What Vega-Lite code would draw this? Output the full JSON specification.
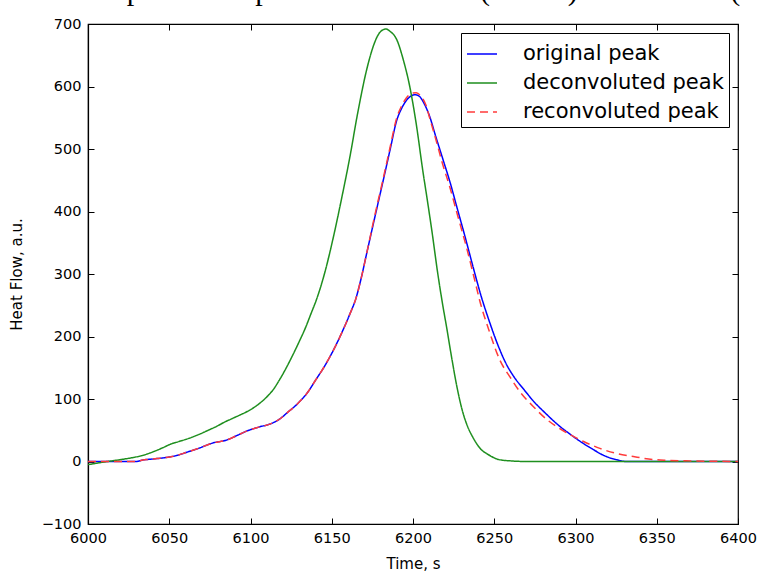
{
  "$schema": "https://vega.github.io/schema/vega-lite/v6.json",
  "width": 650,
  "height": 500,
  "autosize": {"type": "none"},
  "padding": {"left": 88, "top": 24, "right": 24, "bottom": 50},
  "background": "white",
  "title": {
    "text": "овки. \u2009Скорости \u2009нагрева \u20091.9 \u2009°С/мин \u2009(синий) и 6 °С/мин (зеленый)",
    "anchor": "start",
    "frame": "group",
    "font": "Liberation Serif",
    "fontSize": 30,
    "fontWeight": "normal",
    "color": "black",
    "baseline": "alphabetic",
    "offset": 0,
    "dx": -90,
    "dy": 14
  },
  "data": {
    "values": [
      {"t": 6000, "v": 0, "s": "original peak"},
      {"t": 6015, "v": 0, "s": "original peak"},
      {"t": 6030, "v": 0, "s": "original peak"},
      {"t": 6033, "v": 2, "s": "original peak"},
      {"t": 6040, "v": 4, "s": "original peak"},
      {"t": 6047, "v": 6, "s": "original peak"},
      {"t": 6055, "v": 10, "s": "original peak"},
      {"t": 6061, "v": 15, "s": "original peak"},
      {"t": 6068, "v": 21, "s": "original peak"},
      {"t": 6076, "v": 29, "s": "original peak"},
      {"t": 6086, "v": 35, "s": "original peak"},
      {"t": 6092, "v": 42, "s": "original peak"},
      {"t": 6098, "v": 49, "s": "original peak"},
      {"t": 6105, "v": 55, "s": "original peak"},
      {"t": 6113, "v": 61, "s": "original peak"},
      {"t": 6118, "v": 68, "s": "original peak"},
      {"t": 6123, "v": 79, "s": "original peak"},
      {"t": 6128, "v": 90, "s": "original peak"},
      {"t": 6131, "v": 98, "s": "original peak"},
      {"t": 6135, "v": 110, "s": "original peak"},
      {"t": 6140, "v": 130, "s": "original peak"},
      {"t": 6145, "v": 150, "s": "original peak"},
      {"t": 6151, "v": 178, "s": "original peak"},
      {"t": 6156, "v": 205, "s": "original peak"},
      {"t": 6161, "v": 235, "s": "original peak"},
      {"t": 6165, "v": 262, "s": "original peak"},
      {"t": 6168, "v": 292, "s": "original peak"},
      {"t": 6171.5, "v": 333, "s": "original peak"},
      {"t": 6176, "v": 385, "s": "original peak"},
      {"t": 6181.7, "v": 450, "s": "original peak"},
      {"t": 6186, "v": 500, "s": "original peak"},
      {"t": 6190, "v": 546, "s": "original peak"},
      {"t": 6193, "v": 565, "s": "original peak"},
      {"t": 6196, "v": 578, "s": "original peak"},
      {"t": 6199, "v": 585, "s": "original peak"},
      {"t": 6201, "v": 587, "s": "original peak"},
      {"t": 6204, "v": 584, "s": "original peak"},
      {"t": 6207, "v": 572, "s": "original peak"},
      {"t": 6210, "v": 554, "s": "original peak"},
      {"t": 6214, "v": 520, "s": "original peak"},
      {"t": 6218.6, "v": 482, "s": "original peak"},
      {"t": 6223, "v": 445, "s": "original peak"},
      {"t": 6227, "v": 407, "s": "original peak"},
      {"t": 6232, "v": 360, "s": "original peak"},
      {"t": 6237, "v": 311, "s": "original peak"},
      {"t": 6242, "v": 264, "s": "original peak"},
      {"t": 6247, "v": 224, "s": "original peak"},
      {"t": 6252, "v": 188, "s": "original peak"},
      {"t": 6257, "v": 158, "s": "original peak"},
      {"t": 6262, "v": 136, "s": "original peak"},
      {"t": 6268, "v": 116, "s": "original peak"},
      {"t": 6274, "v": 97, "s": "original peak"},
      {"t": 6282, "v": 76, "s": "original peak"},
      {"t": 6290, "v": 57, "s": "original peak"},
      {"t": 6296, "v": 45, "s": "original peak"},
      {"t": 6303, "v": 32, "s": "original peak"},
      {"t": 6311, "v": 19, "s": "original peak"},
      {"t": 6318, "v": 9, "s": "original peak"},
      {"t": 6325, "v": 3, "s": "original peak"},
      {"t": 6331, "v": 0, "s": "original peak"},
      {"t": 6360, "v": 0, "s": "original peak"},
      {"t": 6400, "v": 0, "s": "original peak"},

      {"t": 6000, "v": -5, "s": "deconvoluted peak"},
      {"t": 6012, "v": 0, "s": "deconvoluted peak"},
      {"t": 6020, "v": 3, "s": "deconvoluted peak"},
      {"t": 6027, "v": 6, "s": "deconvoluted peak"},
      {"t": 6034, "v": 10, "s": "deconvoluted peak"},
      {"t": 6041, "v": 16.5, "s": "deconvoluted peak"},
      {"t": 6046, "v": 22, "s": "deconvoluted peak"},
      {"t": 6051, "v": 28, "s": "deconvoluted peak"},
      {"t": 6056, "v": 32, "s": "deconvoluted peak"},
      {"t": 6062, "v": 37, "s": "deconvoluted peak"},
      {"t": 6068, "v": 43, "s": "deconvoluted peak"},
      {"t": 6074, "v": 50, "s": "deconvoluted peak"},
      {"t": 6079, "v": 56, "s": "deconvoluted peak"},
      {"t": 6084, "v": 63, "s": "deconvoluted peak"},
      {"t": 6089, "v": 69, "s": "deconvoluted peak"},
      {"t": 6094, "v": 75, "s": "deconvoluted peak"},
      {"t": 6098, "v": 80, "s": "deconvoluted peak"},
      {"t": 6103, "v": 88, "s": "deconvoluted peak"},
      {"t": 6107, "v": 96, "s": "deconvoluted peak"},
      {"t": 6111, "v": 106, "s": "deconvoluted peak"},
      {"t": 6114, "v": 115, "s": "deconvoluted peak"},
      {"t": 6117, "v": 127, "s": "deconvoluted peak"},
      {"t": 6121, "v": 145, "s": "deconvoluted peak"},
      {"t": 6125, "v": 165, "s": "deconvoluted peak"},
      {"t": 6130, "v": 192, "s": "deconvoluted peak"},
      {"t": 6134, "v": 215, "s": "deconvoluted peak"},
      {"t": 6137, "v": 235, "s": "deconvoluted peak"},
      {"t": 6141, "v": 262, "s": "deconvoluted peak"},
      {"t": 6146, "v": 305, "s": "deconvoluted peak"},
      {"t": 6151, "v": 359, "s": "deconvoluted peak"},
      {"t": 6156, "v": 420, "s": "deconvoluted peak"},
      {"t": 6161, "v": 485, "s": "deconvoluted peak"},
      {"t": 6166, "v": 558, "s": "deconvoluted peak"},
      {"t": 6171.5, "v": 627, "s": "deconvoluted peak"},
      {"t": 6175, "v": 660, "s": "deconvoluted peak"},
      {"t": 6178, "v": 680, "s": "deconvoluted peak"},
      {"t": 6181, "v": 690, "s": "deconvoluted peak"},
      {"t": 6183.4, "v": 692, "s": "deconvoluted peak"},
      {"t": 6186, "v": 688, "s": "deconvoluted peak"},
      {"t": 6190, "v": 675, "s": "deconvoluted peak"},
      {"t": 6194, "v": 643, "s": "deconvoluted peak"},
      {"t": 6198, "v": 600, "s": "deconvoluted peak"},
      {"t": 6202, "v": 540, "s": "deconvoluted peak"},
      {"t": 6206, "v": 466, "s": "deconvoluted peak"},
      {"t": 6209, "v": 415, "s": "deconvoluted peak"},
      {"t": 6212, "v": 362, "s": "deconvoluted peak"},
      {"t": 6215, "v": 305, "s": "deconvoluted peak"},
      {"t": 6218, "v": 255, "s": "deconvoluted peak"},
      {"t": 6221, "v": 210, "s": "deconvoluted peak"},
      {"t": 6224, "v": 163, "s": "deconvoluted peak"},
      {"t": 6227, "v": 120, "s": "deconvoluted peak"},
      {"t": 6230, "v": 85, "s": "deconvoluted peak"},
      {"t": 6233, "v": 60, "s": "deconvoluted peak"},
      {"t": 6237, "v": 38, "s": "deconvoluted peak"},
      {"t": 6241, "v": 22, "s": "deconvoluted peak"},
      {"t": 6247, "v": 10, "s": "deconvoluted peak"},
      {"t": 6253, "v": 3, "s": "deconvoluted peak"},
      {"t": 6260, "v": 1, "s": "deconvoluted peak"},
      {"t": 6270, "v": 0, "s": "deconvoluted peak"},
      {"t": 6400, "v": 0, "s": "deconvoluted peak"},

      {"t": 6000, "v": 0, "s": "reconvoluted peak"},
      {"t": 6015, "v": 0, "s": "reconvoluted peak"},
      {"t": 6030, "v": 0, "s": "reconvoluted peak"},
      {"t": 6033, "v": 2, "s": "reconvoluted peak"},
      {"t": 6040, "v": 4, "s": "reconvoluted peak"},
      {"t": 6047, "v": 6, "s": "reconvoluted peak"},
      {"t": 6055, "v": 10, "s": "reconvoluted peak"},
      {"t": 6061, "v": 15, "s": "reconvoluted peak"},
      {"t": 6068, "v": 21, "s": "reconvoluted peak"},
      {"t": 6076, "v": 29, "s": "reconvoluted peak"},
      {"t": 6086, "v": 35, "s": "reconvoluted peak"},
      {"t": 6092, "v": 42, "s": "reconvoluted peak"},
      {"t": 6098, "v": 49, "s": "reconvoluted peak"},
      {"t": 6105, "v": 55, "s": "reconvoluted peak"},
      {"t": 6113, "v": 61, "s": "reconvoluted peak"},
      {"t": 6118, "v": 68, "s": "reconvoluted peak"},
      {"t": 6123, "v": 79, "s": "reconvoluted peak"},
      {"t": 6128, "v": 90, "s": "reconvoluted peak"},
      {"t": 6131, "v": 98, "s": "reconvoluted peak"},
      {"t": 6135, "v": 110, "s": "reconvoluted peak"},
      {"t": 6140, "v": 130, "s": "reconvoluted peak"},
      {"t": 6145, "v": 150, "s": "reconvoluted peak"},
      {"t": 6151, "v": 178, "s": "reconvoluted peak"},
      {"t": 6156, "v": 205, "s": "reconvoluted peak"},
      {"t": 6161, "v": 235, "s": "reconvoluted peak"},
      {"t": 6165, "v": 262, "s": "reconvoluted peak"},
      {"t": 6168, "v": 292, "s": "reconvoluted peak"},
      {"t": 6171.5, "v": 333, "s": "reconvoluted peak"},
      {"t": 6176, "v": 388, "s": "reconvoluted peak"},
      {"t": 6181.7, "v": 453, "s": "reconvoluted peak"},
      {"t": 6186, "v": 504, "s": "reconvoluted peak"},
      {"t": 6190, "v": 550, "s": "reconvoluted peak"},
      {"t": 6193, "v": 569, "s": "reconvoluted peak"},
      {"t": 6196, "v": 582, "s": "reconvoluted peak"},
      {"t": 6199, "v": 589, "s": "reconvoluted peak"},
      {"t": 6202, "v": 590, "s": "reconvoluted peak"},
      {"t": 6205, "v": 584, "s": "reconvoluted peak"},
      {"t": 6208, "v": 570, "s": "reconvoluted peak"},
      {"t": 6210, "v": 552, "s": "reconvoluted peak"},
      {"t": 6214, "v": 516, "s": "reconvoluted peak"},
      {"t": 6218, "v": 478, "s": "reconvoluted peak"},
      {"t": 6223, "v": 436, "s": "reconvoluted peak"},
      {"t": 6227, "v": 398, "s": "reconvoluted peak"},
      {"t": 6233, "v": 342, "s": "reconvoluted peak"},
      {"t": 6238, "v": 290, "s": "reconvoluted peak"},
      {"t": 6241, "v": 258, "s": "reconvoluted peak"},
      {"t": 6247, "v": 208, "s": "reconvoluted peak"},
      {"t": 6253.5, "v": 162, "s": "reconvoluted peak"},
      {"t": 6260, "v": 134, "s": "reconvoluted peak"},
      {"t": 6266, "v": 111, "s": "reconvoluted peak"},
      {"t": 6274, "v": 88, "s": "reconvoluted peak"},
      {"t": 6282, "v": 68, "s": "reconvoluted peak"},
      {"t": 6290, "v": 53, "s": "reconvoluted peak"},
      {"t": 6296, "v": 44, "s": "reconvoluted peak"},
      {"t": 6305, "v": 32, "s": "reconvoluted peak"},
      {"t": 6315, "v": 21, "s": "reconvoluted peak"},
      {"t": 6325, "v": 13, "s": "reconvoluted peak"},
      {"t": 6335.6, "v": 8, "s": "reconvoluted peak"},
      {"t": 6345, "v": 4, "s": "reconvoluted peak"},
      {"t": 6356, "v": 2, "s": "reconvoluted peak"},
      {"t": 6370, "v": 1, "s": "reconvoluted peak"},
      {"t": 6400, "v": 0, "s": "reconvoluted peak"}
    ]
  },
  "layer": [
    {
      "mark": {"type": "line", "interpolate": "monotone", "clip": true},
      "encoding": {
        "x": {
          "field": "t", "type": "quantitative",
          "scale": {"domain": [6000, 6400], "nice": false, "zero": false},
          "axis": {
            "values": [6000, 6050, 6100, 6150, 6200, 6250, 6300, 6350, 6400],
            "format": "d",
            "title": "Time, s",
            "grid": false,
            "labelFlush": false,
            "tickSize": -6,
            "labelPadding": 13,
            "titlePadding": 12
          }
        },
        "y": {
          "field": "v", "type": "quantitative",
          "scale": {"domain": [-100, 700], "nice": false, "zero": false},
          "axis": {
            "values": [-100, 0, 100, 200, 300, 400, 500, 600, 700],
            "format": "d",
            "title": "Heat Flow, a.u.",
            "grid": false,
            "labelFlush": false,
            "tickSize": -6,
            "labelPadding": 13,
            "titlePadding": 17
          }
        },
        "color": {
          "field": "s", "type": "nominal",
          "scale": {
            "domain": ["original peak", "deconvoluted peak", "reconvoluted peak"],
            "range": ["#0000ff", "#1f8f1f", "#ff3b3b"]
          },
          "legend": {
            "title": null,
            "orient": "top-right",
            "offset": 9,
            "symbolType": "M-1,0L1,0",
            "symbolSize": 900,
            "symbolStrokeWidth": 1.6,
            "labelFontSize": 21,
            "labelFont": "DejaVu Sans",
            "labelColor": "black",
            "labelLimit": 400,
            "labelOffset": 25,
            "rowPadding": 3,
            "padding": 5,
            "strokeColor": "black",
            "fillColor": "white",
            "cornerRadius": 0
          }
        },
        "strokeDash": {
          "field": "s", "type": "nominal",
          "scale": {
            "domain": ["original peak", "deconvoluted peak", "reconvoluted peak"],
            "range": [[1, 0], [1, 0], [8, 5]]
          },
          "legend": null
        },
        "strokeWidth": {
          "field": "s", "type": "nominal",
          "scale": {
            "domain": ["original peak", "deconvoluted peak", "reconvoluted peak"],
            "range": [1.5, 1.5, 2]
          },
          "legend": null
        }
      }
    },
    {
      "mark": {"type": "point", "opacity": 0},
      "encoding": {
        "x": {
          "field": "t", "type": "quantitative",
          "axis": {
            "orient": "top",
            "values": [6000, 6050, 6100, 6150, 6200, 6250, 6300, 6350, 6400],
            "labels": false, "title": null, "grid": false, "tickSize": -6, "domain": false
          }
        },
        "y": {
          "field": "v", "type": "quantitative",
          "axis": {
            "orient": "right",
            "values": [-100, 0, 100, 200, 300, 400, 500, 600, 700],
            "labels": false, "title": null, "grid": false, "tickSize": -6, "domain": false
          }
        }
      }
    }
  ],
  "resolve": {"axis": {"x": "independent", "y": "independent"}},
  "config": {
    "view": {"stroke": "#000000", "strokeWidth": 1.2},
    "axis": {
      "labelFont": "DejaVu Sans",
      "labelFontSize": 14.5,
      "labelColor": "#000000",
      "titleFont": "DejaVu Sans",
      "titleFontSize": 15,
      "titleFontWeight": "normal",
      "titleColor": "#000000",
      "domainColor": "#000000",
      "domainWidth": 1.2,
      "tickColor": "#000000",
      "tickWidth": 1
    }
  }
}
